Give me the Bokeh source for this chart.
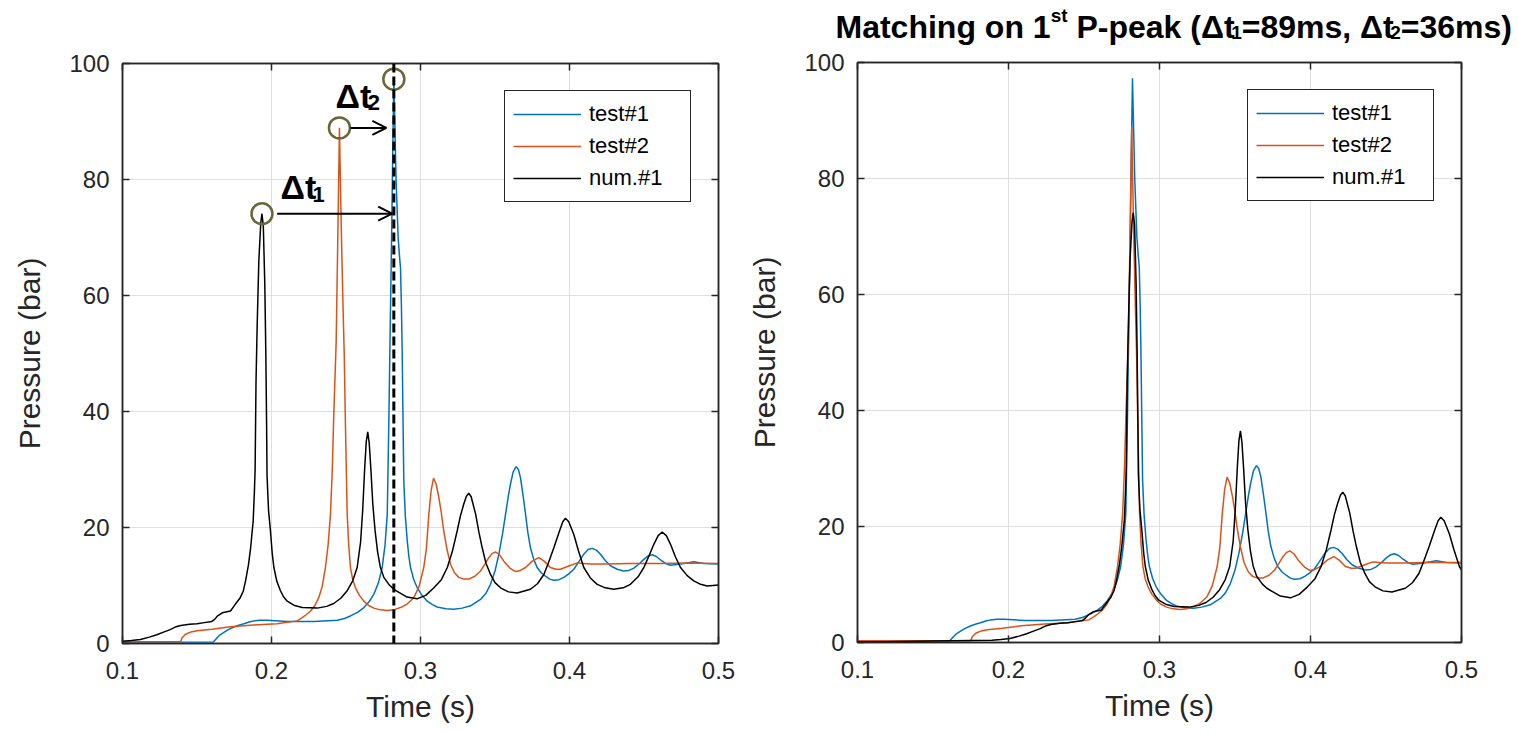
from bokeh.plotting import figure
from bokeh.layouts import row, column
from bokeh.models import (Range1d, FixedTicker, LinearAxis, Legend, LegendItem,
                          Span, Arrow, OpenHead, Label)
from bokeh.embed import file_html
from bokeh.resources import INLINE

# ---------------- data ----------------
NAMES = ["test#1", "test#2", "num.#1"]
X_TICKS = [0.1, 0.2, 0.3, 0.4, 0.5]
Y_TICKS = [0, 20, 40, 60, 80, 100]
DT1 = 0.089   # shift applied to num.#1 on the right panel (s)
DT2 = 0.036   # shift applied to test#2 on the right panel (s)

t_test1 = [0.000, 0.100, 0.161, 0.1635, 0.1655, 0.168, 0.171, 0.1747, 0.178, 0.1814,
           0.185, 0.1881, 0.1925, 0.1971, 0.2105, 0.2284, 0.2441, 0.249, 0.253, 0.258,
           0.262, 0.2655, 0.2687, 0.2718, 0.2743, 0.2762, 0.2777, 0.2788, 0.2797, 0.2806,
           0.2814, 0.2821, 0.2836, 0.2850, 0.2860, 0.2866, 0.2872, 0.2877, 0.2882, 0.2888,
           0.2898, 0.2911, 0.2922, 0.2933, 0.2955, 0.2978, 0.301, 0.3045, 0.308, 0.3112,
           0.317, 0.3224, 0.328, 0.3336, 0.3403, 0.3438, 0.347, 0.350, 0.3526, 0.355,
           0.3571, 0.3588, 0.3604, 0.3622, 0.3642, 0.3657, 0.3671, 0.3688, 0.3705, 0.372,
           0.3738, 0.376, 0.3783, 0.381, 0.3839, 0.3867, 0.3895, 0.393, 0.3962, 0.3995,
           0.4029, 0.406, 0.4096, 0.4125, 0.4152, 0.418, 0.4208, 0.424, 0.4275, 0.432,
           0.4364, 0.4400, 0.4432, 0.447, 0.4499, 0.4528, 0.4555, 0.4583, 0.4611, 0.4645,
           0.4678, 0.472, 0.4767, 0.4834, 0.4901, 0.5000]
p_test1 = [0.2, 0.2, 0.25, 1.0, 1.5, 1.9, 2.4, 2.85, 3.15, 3.4,
           3.7, 3.9, 4.0, 4.0, 3.8, 3.8, 4.0, 4.3, 4.75, 5.4,
           6.2, 7.2, 8.5, 10.5, 13.1, 17.0, 22.3, 39.0, 55.0, 70.0,
           85.0, 97.3, 80.0, 70.0, 66.5, 64.7, 58.0, 50.5, 40.0, 28.0,
           22.0, 17.7, 15.0, 13.1, 11.0, 9.6, 8.3, 7.3, 6.7, 6.3,
           6.0, 5.9, 6.1, 6.5, 7.6, 8.6, 10.2, 12.5, 15.4, 18.8,
           22.3, 25.2, 27.5, 29.6, 30.5, 30.0, 28.6, 25.6, 22.3, 19.2,
           16.5, 14.5, 13.1, 12.2, 11.6, 11.1, 10.9, 11.0, 11.4, 12.0,
           12.8, 14.0, 15.4, 16.2, 16.4, 16.1, 15.4, 14.3, 13.4, 12.8,
           12.5, 12.6, 13.0, 13.8, 14.5, 15.1, 15.3, 15.0, 14.4, 13.8,
           13.5, 13.6, 13.8, 14.1, 13.8, 13.7]

t_test2 = [0.000, 0.139, 0.140, 0.1423, 0.146, 0.150, 0.160, 0.1725, 0.1881, 0.2038,
           0.2172, 0.2206, 0.2235, 0.2262, 0.229, 0.2317, 0.234, 0.2362, 0.238, 0.2396,
           0.2408, 0.2418, 0.2434, 0.2445, 0.2456, 0.2468, 0.2480, 0.2488, 0.2496, 0.2508,
           0.2518, 0.253, 0.2545, 0.2564, 0.259, 0.262, 0.265, 0.2687, 0.273, 0.2777,
           0.282, 0.2866, 0.291, 0.2955, 0.299, 0.3022, 0.304, 0.3056, 0.3072, 0.3088,
           0.3105, 0.3123, 0.314, 0.3156, 0.3178, 0.3201, 0.3228, 0.3257, 0.329, 0.3324,
           0.3365, 0.3403, 0.343, 0.3458, 0.348, 0.3503, 0.353, 0.3559, 0.360, 0.3638,
           0.367, 0.3705, 0.375, 0.3794, 0.383, 0.3872, 0.391, 0.3940, 0.400, 0.4052,
           0.4141, 0.4253, 0.4400, 0.4600, 0.4800, 0.5000]
p_test2 = [0.3, 0.3, 1.0, 1.6, 2.0, 2.2, 2.45, 2.9, 3.2, 3.4,
           3.9, 4.45, 5.0, 5.6, 6.5, 7.9, 9.8, 13.1, 17.0, 22.3,
           30.0, 39.5, 52.0, 70.0, 88.9, 72.0, 58.0, 50.0, 38.0, 22.3,
           17.0, 13.1, 11.0, 9.6, 8.3, 7.3, 6.6, 6.1, 5.8, 5.7,
           5.8, 6.2, 6.8, 7.9, 9.8, 13.1, 16.5, 22.3, 26.5, 28.5,
           27.5, 25.2, 22.5, 19.4, 16.2, 13.7, 12.2, 11.4, 11.1, 11.1,
           11.6, 12.5, 13.6, 14.8, 15.5, 15.8, 15.3, 14.2, 13.0, 12.4,
           12.6, 13.1, 14.2, 14.8, 14.2, 13.1, 12.8, 12.8, 13.4, 13.9,
           13.7, 13.7, 13.8, 13.8, 13.9, 13.8]

t_num1 = [0.000, 0.030, 0.060, 0.100, 0.106, 0.112, 0.118, 0.123, 0.128, 0.132,
          0.136, 0.139, 0.145, 0.150, 0.155, 0.160, 0.162, 0.1636, 0.167, 0.1725,
          0.1758, 0.179, 0.181, 0.1826, 0.1845, 0.186, 0.1877, 0.1885, 0.1890, 0.1896,
          0.1904, 0.1915, 0.1928, 0.1936, 0.1945, 0.1955, 0.1962, 0.1967, 0.1970, 0.1980,
          0.1993, 0.2005, 0.2016, 0.2035, 0.206, 0.208, 0.2105, 0.215, 0.2206, 0.2307,
          0.237, 0.2418, 0.2465, 0.2508, 0.2545, 0.2575, 0.2598, 0.2612, 0.2625, 0.2636,
          0.2646, 0.2656, 0.2667, 0.2680, 0.2695, 0.2712, 0.273, 0.2754, 0.279, 0.2821,
          0.287, 0.291, 0.2977, 0.3035, 0.309, 0.314, 0.318, 0.3215, 0.3246, 0.3268,
          0.329, 0.3308, 0.3324, 0.334, 0.337, 0.3392, 0.3414, 0.344, 0.347, 0.350,
          0.3537, 0.359, 0.3649, 0.3738, 0.3785, 0.3828, 0.386, 0.3895, 0.393, 0.3955,
          0.3973, 0.3995, 0.4029, 0.406, 0.4096, 0.414, 0.4186, 0.424, 0.4297, 0.436,
          0.4409, 0.446, 0.4499, 0.4535, 0.4566, 0.4595, 0.4622, 0.465, 0.4678, 0.471,
          0.4745, 0.479, 0.4834, 0.488, 0.4924, 0.5000]
p_num1 = [0.1, 0.15, 0.25, 0.4, 0.5, 0.7, 1.1, 1.5, 2.0, 2.4,
          2.9, 3.1, 3.3, 3.4, 3.6, 3.8, 4.2, 4.7, 5.3, 5.6,
          6.8, 7.9, 9.0, 10.8, 13.5, 16.5, 21.1, 26.0, 30.0, 45.0,
          55.0, 66.0, 72.5, 74.1, 72.0, 62.0, 50.0, 38.0, 29.0, 23.0,
          19.4, 15.5, 13.1, 10.8, 9.1, 8.1, 7.3, 6.6, 6.2, 6.1,
          6.4, 6.9, 7.8, 9.1, 10.8, 13.1, 17.5, 23.0, 30.0, 34.8,
          36.5, 34.5, 30.0, 24.0, 19.5, 15.8, 13.2, 11.4, 10.1, 9.35,
          8.6, 8.0, 7.7, 8.3, 9.6, 11.0, 13.1, 16.0, 19.4, 22.0,
          24.0, 25.4, 25.9, 25.3, 22.3, 19.2, 16.5, 13.8, 11.9, 10.5,
          9.6, 8.9, 8.7, 9.35, 10.3, 11.9, 14.0, 16.5, 19.2, 21.0,
          21.6, 21.0, 18.8, 16.0, 13.1, 11.3, 10.2, 9.6, 9.35, 9.6,
          10.2, 11.5, 13.1, 15.2, 17.1, 18.6, 19.2, 18.6, 17.1, 15.0,
          13.1, 11.7, 10.8, 10.2, 9.9, 10.1]

# ---------------- styling ----------------
FONT = "Liberation Sans"
INK = "#262626"
GRID = "#dfdfdf"
COLORS = ["#0072BD", "#D95319", "#000000"]
CIRCLE = "#67673a"

BOLD_W = {" ": .278, "(": .333, ")": .333, ",": .278, "-": .333, ".": .278, "=": .584,
          "M": .833, "P": .667, "a": .556, "c": .556, "e": .556, "g": .611, "h": .611,
          "i": .278, "k": .556, "m": .889, "n": .611, "o": .611, "p": .611, "s": .556,
          "t": .333, "\u0394": .612}


def text_width(s, size):
    return sum(BOLD_W.get(c, .556) for c in s) * size


def rich_text(p, x, y, pieces, x0=0, y0=0):
    """pieces: (text, font size px, baseline shift px up)"""
    off = x0
    for txt, size, dy in pieces:
        if txt.strip():
            p.add_layout(Label(x=x, y=y, x_offset=off, y_offset=y0 + dy, text=txt,
                               text_font=FONT, text_font_style="bold",
                               text_font_size=f"{size}px", text_color="black",
                               text_align="left", text_baseline="alphabetic"))
        off += text_width(txt, size)


def style_axis(ax, labels=True):
    ax.axis_line_color = INK
    ax.axis_line_width = 1.5
    ax.major_tick_line_color = INK
    ax.major_tick_line_width = 1.5
    ax.major_tick_in = 7
    ax.major_tick_out = 0
    ax.minor_tick_line_color = None
    if labels:
        ax.major_label_text_font = FONT
        ax.major_label_text_font_size = "24px"
        ax.major_label_text_color = INK
        ax.axis_label_text_font = FONT
        ax.axis_label_text_font_size = "30px"
        ax.axis_label_text_font_style = "normal"
        ax.axis_label_text_color = INK
    else:
        ax.major_label_text_color = None
        ax.major_label_text_font_size = "1px"
        ax.major_label_standoff = 0


def make_fig(width, height, left, right, top, bottom):
    p = figure(width=width, height=height, x_range=Range1d(0.1, 0.5), y_range=Range1d(0, 100),
               output_backend="svg", toolbar_location=None,
               min_border_left=left, min_border_right=right,
               min_border_top=top, min_border_bottom=bottom,
               background_fill_color="white", border_fill_color="white")
    p.frame_align = False
    p.outline_line_color = INK
    p.outline_line_width = 1.5
    p.xaxis.ticker = FixedTicker(ticks=X_TICKS)
    p.yaxis.ticker = FixedTicker(ticks=Y_TICKS)
    p.xaxis.axis_label = "Time (s)"
    p.yaxis.axis_label = "Pressure (bar)"
    for ax in list(p.xaxis) + list(p.yaxis):
        style_axis(ax)
    p.xaxis.major_label_standoff = 18
    p.yaxis.major_label_standoff = 13
    p.xaxis.axis_label_standoff = 8
    p.yaxis.axis_label_standoff = 20
    top_ax = LinearAxis(ticker=FixedTicker(ticks=X_TICKS))
    style_axis(top_ax, labels=False)
    p.add_layout(top_ax, "above")
    right_ax = LinearAxis(ticker=FixedTicker(ticks=Y_TICKS))
    style_axis(right_ax, labels=False)
    p.add_layout(right_ax, "right")
    p.grid.grid_line_color = GRID
    p.grid.grid_line_width = 1
    return p


def add_legend(p, renderers):
    items = [LegendItem(label=n, renderers=[r]) for n, r in zip(NAMES, renderers)]
    leg = Legend(items=items, location="top_right", margin=27, padding=8, spacing=2,
                 label_height=30, glyph_height=30, glyph_width=68, label_standoff=8,
                 label_width=93, border_line_color=INK, border_line_width=1,
                 border_line_alpha=1, background_fill_color="white", background_fill_alpha=1,
                 label_text_font=FONT, label_text_font_size="22px", label_text_color="black")
    p.add_layout(leg)


# ---------------- left panel: raw signals ----------------
p1 = make_fig(735, 732, 122, 17, 63, 89)
series = [(t_test1, p_test1), (t_test2, p_test2), (t_num1, p_num1)]
r1 = [p1.line(t, v, line_color=c, line_width=1.5) for (t, v), c in zip(series, COLORS)]

peaks = []
for t, v in series:
    i = max(range(len(v)), key=lambda k: v[k])
    peaks.append((t[i], v[i]))
t_ref = peaks[0][0]

p1.add_layout(Span(location=t_ref, dimension="height", line_color="black",
                   line_width=3, line_dash="9 4"))
p1.scatter([pk[0] for pk in peaks], [pk[1] for pk in peaks], size=21, marker="circle",
           fill_color=None, line_color=CIRCLE, line_width=2.5)
p1.add_layout(Arrow(end=OpenHead(size=14, line_width=2, line_color="black"),
                    x_start=peaks[2][0] + 0.0102, y_start=peaks[2][1],
                    x_end=t_ref - 0.0011, y_end=peaks[2][1],
                    line_width=2, line_color="black"))
p1.add_layout(Arrow(end=OpenHead(size=14, line_width=2, line_color="black"),
                    x_start=peaks[1][0] + 0.0074, y_start=peaks[1][1],
                    x_end=t_ref - 0.0050, y_end=peaks[1][1],
                    line_width=2, line_color="black"))
rich_text(p1, 0.2060, 76.9, [("\u0394t", 34, 0), ("1", 22, -7)], y0=10)
rich_text(p1, 0.2430, 92.9, [("\u0394t", 34, 0), ("2", 22, -7)], y0=9)
add_legend(p1, r1)

# ---------------- right panel: matched on first peak ----------------
p2 = make_fig(783, 686, 122, 57, 16, 90)
shifted = [(t_test1, p_test1),
           ([x + DT2 for x in t_test2], p_test2),
           ([x + DT1 for x in t_num1], p_num1)]
r2 = [p2.line(t, v, line_color=c, line_width=1.5) for (t, v), c in zip(shifted, COLORS)]
add_legend(p2, r2)

# title strip above the right panel (pixel coordinates)
tfig = figure(width=783, height=46, x_range=Range1d(0, 783), y_range=Range1d(0, 46),
              output_backend="svg", toolbar_location=None, min_border=0,
              x_axis_location=None, y_axis_location=None,
              background_fill_color="white", border_fill_color="white")
tfig.frame_align = False
tfig.outline_line_color = None
tfig.grid.visible = False
title_pieces = [("Matching on 1", 32, 0), ("st", 19, 11), (" ", 32, 0),
                ("P-peak (\u0394t", 32, 0), ("1", 19, -6), ("=89ms, \u0394t", 32, 0),
                ("2", 19, -6), ("=36ms)", 32, 0)]
rich_text(tfig, 100, 20, title_pieces)

layout = row(p1, column(tfig, p2))
open("out.html", "w").write(file_html(layout, INLINE, title="Pressure peaks"))
